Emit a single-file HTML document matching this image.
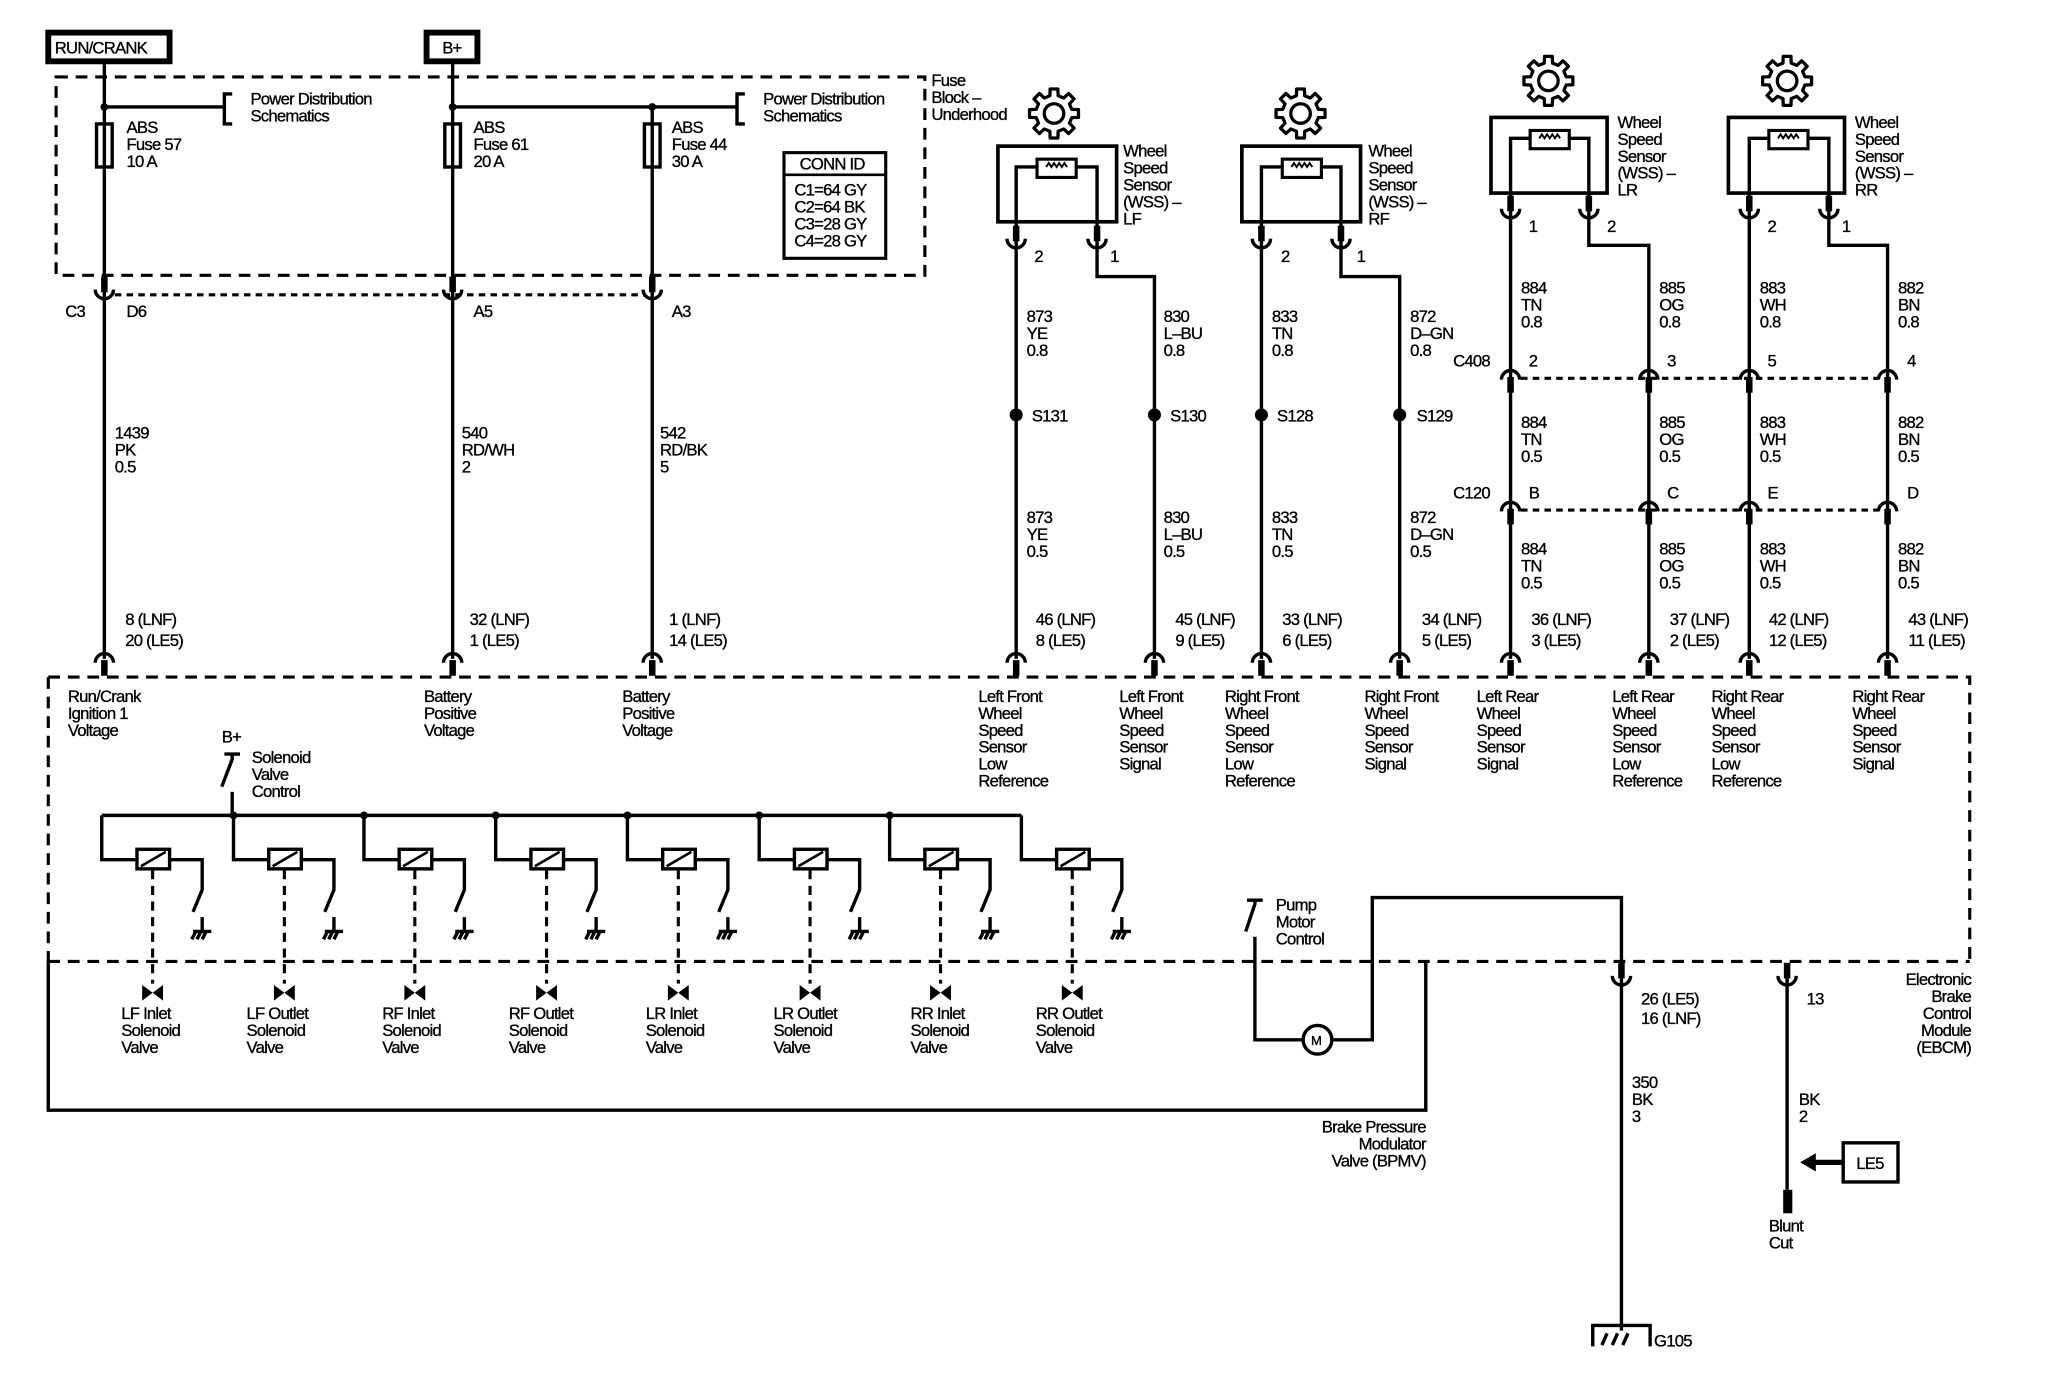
<!DOCTYPE html>
<html><head><meta charset="utf-8"><style>
html,body{margin:0;padding:0;background:#fff}
svg{display:block}
text{font-family:"Liberation Sans",sans-serif;font-size:12.8px;letter-spacing:-0.6px;fill:#000;stroke:#000;stroke-width:0.25}
.w{stroke:#000;stroke-width:2.6;fill:none}
.d{stroke:#000;stroke-width:2.4;fill:none;stroke-dasharray:9 6}
.dt{stroke:#000;stroke-width:2.4;fill:none;stroke-dasharray:5 4}
</style></head><body>
<svg width="2048" height="1392" viewBox="0 0 1570 1067" preserveAspectRatio="none" xmlns="http://www.w3.org/2000/svg">
<defs>
<g id="cupA"><line x1="0" y1="-12" x2="0" y2="0" stroke="#000" stroke-width="5"/><path d="M-7,-2 A7,7 0 0 0 7,-2" class="w"/></g>
<g id="cupB"><path d="M-7,5 A7,7 0 0 1 7,5" class="w"/><line x1="0" y1="3" x2="0" y2="15" stroke="#000" stroke-width="5"/></g>
<g id="gear"><polygon points="13.64,-3.15 18.77,-2.97 18.77,2.97 13.64,3.15 11.87,7.42 15.37,11.17 11.17,15.37 7.42,11.87 3.15,13.64 2.97,18.77 -2.97,18.77 -3.15,13.64 -7.42,11.87 -11.17,15.37 -15.37,11.17 -11.87,7.42 -13.64,3.15 -18.77,2.97 -18.77,-2.97 -13.64,-3.15 -11.87,-7.42 -15.37,-11.17 -11.17,-15.37 -7.42,-11.87 -3.15,-13.64 -2.97,-18.77 2.97,-18.77 3.15,-13.64 7.42,-11.87 11.17,-15.37 15.37,-11.17 11.87,-7.42" fill="#fff" stroke="#000" stroke-width="2.5" stroke-linejoin="round"/><circle r="7.5" fill="none" stroke="#000" stroke-width="2.5"/></g>
<g id="sol">
<path d="M0,625 V659 H27 M52,659 H77 V682 L70,699 M77,703 V714 M70,714 H84 M72,714 L69,720 M76,714 L73,720 M80,714 L77,720" class="w"/>
<rect x="27" y="651" width="25" height="15" fill="#fff" stroke="#000" stroke-width="2.6"/>
<line x1="30" y1="664" x2="49" y2="653" stroke="#000" stroke-width="2"/>
<line x1="39" y1="667" x2="39" y2="754" stroke="#000" stroke-width="2.4" stroke-dasharray="7 5"/>
<path d="M31,755 L39,761 L31,767 Z M47,755 L39,761 L47,767 Z" fill="#000"/>
</g>
</defs>

<rect x="37" y="25" width="93" height="22" fill="#fff" stroke="#000" stroke-width="4.5"/>
<text x="42" y="41">RUN/CRANK</text>
<rect x="327" y="25" width="39" height="22" fill="#fff" stroke="#000" stroke-width="4.5"/>
<text x="339" y="41">B+</text>

<rect x="43" y="59" width="666" height="152" class="d"/>
<path d="M80,47 V505 M347,47 V505 M500,82 V505 M80,82 H172 M347,82 H565" class="w"/>
<path d="M178,72 H172 V95 H178 M571,72 H565 V95 H571" class="w"/>
<circle cx="80" cy="82" r="3"/><circle cx="347" cy="82" r="3"/><circle cx="500" cy="82" r="3"/>
<text x="192" y="80">Power Distribution</text><text x="192" y="93">Schematics</text>
<text x="585" y="80">Power Distribution</text><text x="585" y="93">Schematics</text>
<g fill="#fff" stroke="#000" stroke-width="2.6">
<rect x="74" y="95" width="12" height="33"/><rect x="341" y="95" width="12" height="33"/><rect x="494" y="95" width="12" height="33"/></g>
<path d="M80,95 V128 M347,95 V128 M500,95 V128" class="w"/>
<text x="97" y="102">ABS</text><text x="97" y="115">Fuse 57</text><text x="97" y="128">10 A</text>
<text x="363" y="102">ABS</text><text x="363" y="115">Fuse 61</text><text x="363" y="128">20 A</text>
<text x="515" y="102">ABS</text><text x="515" y="115">Fuse 44</text><text x="515" y="128">30 A</text>
<text x="714" y="66">Fuse</text><text x="714" y="79">Block –</text><text x="714" y="92">Underhood</text>
<rect x="601" y="117" width="78" height="81" fill="#fff" stroke="#000" stroke-width="2.4"/>
<line x1="601" y1="134" x2="679" y2="134" stroke="#000" stroke-width="2"/>
<text x="613" y="130">CONN ID</text>
<text x="609" y="150">C1=64 GY</text><text x="609" y="163">C2=64 BK</text><text x="609" y="176">C3=28 GY</text><text x="609" y="189">C4=28 GY</text>

<line x1="88" y1="226" x2="494" y2="226" class="dt"/>
<use href="#cupA" x="80" y="224"/><use href="#cupA" x="347" y="224"/><use href="#cupA" x="500" y="224"/>
<text x="50" y="243">C3</text><text x="97" y="243">D6</text><text x="363" y="243">A5</text><text x="515" y="243">A3</text>
<text x="88" y="336">1439</text><text x="88" y="349">PK</text><text x="88" y="362">0.5</text>
<text x="354" y="336">540</text><text x="354" y="349">RD/WH</text><text x="354" y="362">2</text>
<text x="506" y="336">542</text><text x="506" y="349">RD/BK</text><text x="506" y="362">5</text>
<text x="96" y="479">8 (LNF)</text><text x="96" y="495">20 (LE5)</text>
<text x="360" y="479">32 (LNF)</text><text x="360" y="495">1 (LE5)</text>
<text x="513" y="479">1 (LNF)</text><text x="513" y="495">14 (LE5)</text>

<use href="#gear" x="808" y="87"/><use href="#gear" x="997" y="87"/>
<use href="#gear" x="1187" y="62"/><use href="#gear" x="1370" y="62"/>
<rect x="765" y="112" width="91" height="58" fill="none" stroke="#000" stroke-width="2.8"/>
<rect x="952" y="112" width="91" height="58" fill="none" stroke="#000" stroke-width="2.8"/>
<rect x="1143" y="90" width="89" height="58" fill="none" stroke="#000" stroke-width="2.8"/>
<rect x="1325" y="90" width="89" height="58" fill="none" stroke="#000" stroke-width="2.8"/>
<path d="M779,185 V128 H795 M825,128 H841 V185 M967,185 V128 H983 M1013,128 H1028 V185 M1158,162 V106 H1173 M1203,106 H1218 V162 M1341,162 V106 H1356 M1386,106 H1402 V162" class="w"/>
<g fill="#fff" stroke="#000" stroke-width="2.4">
<rect x="795" y="122" width="30" height="14"/><rect x="983" y="122" width="30" height="14"/>
<rect x="1173" y="100" width="30" height="14"/><rect x="1356" y="100" width="30" height="14"/></g>
<path d="M802,128 l2,-3 2,3 2,-3 2,3 2,-3 2,3 2,-3 2,3 M990,128 l2,-3 2,3 2,-3 2,3 2,-3 2,3 2,-3 2,3 M1180,106 l2,-3 2,3 2,-3 2,3 2,-3 2,3 2,-3 2,3 M1363,106 l2,-3 2,3 2,-3 2,3 2,-3 2,3 2,-3 2,3" stroke="#000" stroke-width="1.5" fill="none"/>
<text x="861" y="120">Wheel</text><text x="861" y="133">Speed</text><text x="861" y="146">Sensor</text><text x="861" y="159">(WSS) –</text><text x="861" y="172">LF</text>
<text x="1049" y="120">Wheel</text><text x="1049" y="133">Speed</text><text x="1049" y="146">Sensor</text><text x="1049" y="159">(WSS) –</text><text x="1049" y="172">RF</text>
<text x="1240" y="98">Wheel</text><text x="1240" y="111">Speed</text><text x="1240" y="124">Sensor</text><text x="1240" y="137">(WSS) –</text><text x="1240" y="150">LR</text>
<text x="1422" y="98">Wheel</text><text x="1422" y="111">Speed</text><text x="1422" y="124">Sensor</text><text x="1422" y="137">(WSS) –</text><text x="1422" y="150">RR</text>

<path d="M779,185 V505 M841,185 V212 H885 V505 M967,185 V505 M1028,185 V212 H1073 V505 M1158,162 V505 M1218,162 V188 H1264 V505 M1341,162 V505 M1402,162 V188 H1447 V505" class="w"/>
<use href="#cupA" x="779" y="185"/><use href="#cupA" x="841" y="185"/><use href="#cupA" x="967" y="185"/><use href="#cupA" x="1028" y="185"/>
<use href="#cupA" x="1158" y="162"/><use href="#cupA" x="1218" y="162"/><use href="#cupA" x="1341" y="162"/><use href="#cupA" x="1402" y="162"/>
<text x="793" y="201">2</text><text x="851" y="201">1</text><text x="982" y="201">2</text><text x="1040" y="201">1</text>
<text x="1172" y="178">1</text><text x="1232" y="178">2</text><text x="1355" y="178">2</text><text x="1412" y="178">1</text>

<g>
<text x="787" y="247">873</text><text x="787" y="260">YE</text><text x="787" y="273">0.8</text>
<text x="892" y="247">830</text><text x="892" y="260">L–BU</text><text x="892" y="273">0.8</text>
<text x="975" y="247">833</text><text x="975" y="260">TN</text><text x="975" y="273">0.8</text>
<text x="1081" y="247">872</text><text x="1081" y="260">D–GN</text><text x="1081" y="273">0.8</text>
<text x="787" y="401">873</text><text x="787" y="414">YE</text><text x="787" y="427">0.5</text>
<text x="892" y="401">830</text><text x="892" y="414">L–BU</text><text x="892" y="427">0.5</text>
<text x="975" y="401">833</text><text x="975" y="414">TN</text><text x="975" y="427">0.5</text>
<text x="1081" y="401">872</text><text x="1081" y="414">D–GN</text><text x="1081" y="427">0.5</text>
</g>
<circle cx="779" cy="318" r="5"/><circle cx="885" cy="318" r="5"/><circle cx="967" cy="318" r="5"/><circle cx="1073" cy="318" r="5"/>
<text x="791" y="323">S131</text><text x="897" y="323">S130</text><text x="979" y="323">S128</text><text x="1086" y="323">S129</text>

<g>
<text x="1166" y="225">884</text><text x="1166" y="238">TN</text><text x="1166" y="251">0.8</text>
<text x="1272" y="225">885</text><text x="1272" y="238">OG</text><text x="1272" y="251">0.8</text>
<text x="1349" y="225">883</text><text x="1349" y="238">WH</text><text x="1349" y="251">0.8</text>
<text x="1455" y="225">882</text><text x="1455" y="238">BN</text><text x="1455" y="251">0.8</text>
<text x="1166" y="328">884</text><text x="1166" y="341">TN</text><text x="1166" y="354">0.5</text>
<text x="1272" y="328">885</text><text x="1272" y="341">OG</text><text x="1272" y="354">0.5</text>
<text x="1349" y="328">883</text><text x="1349" y="341">WH</text><text x="1349" y="354">0.5</text>
<text x="1455" y="328">882</text><text x="1455" y="341">BN</text><text x="1455" y="354">0.5</text>
<text x="1166" y="425">884</text><text x="1166" y="438">TN</text><text x="1166" y="451">0.5</text>
<text x="1272" y="425">885</text><text x="1272" y="438">OG</text><text x="1272" y="451">0.5</text>
<text x="1349" y="425">883</text><text x="1349" y="438">WH</text><text x="1349" y="451">0.5</text>
<text x="1455" y="425">882</text><text x="1455" y="438">BN</text><text x="1455" y="451">0.5</text>
</g>
<line x1="1166" y1="290" x2="1440" y2="290" class="dt"/>
<line x1="1166" y1="391" x2="1440" y2="391" class="dt"/>
<use href="#cupB" x="1158" y="286"/><use href="#cupB" x="1264" y="286"/><use href="#cupB" x="1341" y="286"/><use href="#cupB" x="1447" y="286"/>
<use href="#cupB" x="1158" y="387"/><use href="#cupB" x="1264" y="387"/><use href="#cupB" x="1341" y="387"/><use href="#cupB" x="1447" y="387"/>
<text x="1114" y="281">C408</text><text x="1172" y="281">2</text><text x="1278" y="281">3</text><text x="1355" y="281">5</text><text x="1462" y="281">4</text>
<text x="1114" y="382">C120</text><text x="1172" y="382">B</text><text x="1278" y="382">C</text><text x="1355" y="382">E</text><text x="1462" y="382">D</text>

<g>
<text x="794" y="479">46 (LNF)</text><text x="794" y="495">8 (LE5)</text>
<text x="901" y="479">45 (LNF)</text><text x="901" y="495">9 (LE5)</text>
<text x="983" y="479">33 (LNF)</text><text x="983" y="495">6 (LE5)</text>
<text x="1090" y="479">34 (LNF)</text><text x="1090" y="495">5 (LE5)</text>
<text x="1174" y="479">36 (LNF)</text><text x="1174" y="495">3 (LE5)</text>
<text x="1280" y="479">37 (LNF)</text><text x="1280" y="495">2 (LE5)</text>
<text x="1356" y="479">42 (LNF)</text><text x="1356" y="495">12 (LE5)</text>
<text x="1463" y="479">43 (LNF)</text><text x="1463" y="495">11 (LE5)</text>
</g>
<g>
<use href="#cupB" x="80" y="503"/><use href="#cupB" x="347" y="503"/><use href="#cupB" x="500" y="503"/>
<use href="#cupB" x="779" y="503"/><use href="#cupB" x="885" y="503"/><use href="#cupB" x="967" y="503"/><use href="#cupB" x="1073" y="503"/>
<use href="#cupB" x="1158" y="503"/><use href="#cupB" x="1264" y="503"/><use href="#cupB" x="1341" y="503"/><use href="#cupB" x="1447" y="503"/>
</g>

<path d="M37,519 H1510 V737 M37,737 H1510 M37,519 V737" class="d"/>
<path d="M37,737 V851 H1093 V737" class="w" stroke-width="3"/>
<text x="52" y="538">Run/Crank</text><text x="52" y="551">Ignition 1</text><text x="52" y="564">Voltage</text>
<text x="325" y="538">Battery</text><text x="325" y="551">Positive</text><text x="325" y="564">Voltage</text>
<text x="477" y="538">Battery</text><text x="477" y="551">Positive</text><text x="477" y="564">Voltage</text>
<text x="750" y="538">Left Front</text><text x="750" y="551">Wheel</text><text x="750" y="564">Speed</text><text x="750" y="577">Sensor</text><text x="750" y="590">Low</text><text x="750" y="603">Reference</text>
<text x="858" y="538">Left Front</text><text x="858" y="551">Wheel</text><text x="858" y="564">Speed</text><text x="858" y="577">Sensor</text><text x="858" y="590">Signal</text>
<text x="939" y="538">Right Front</text><text x="939" y="551">Wheel</text><text x="939" y="564">Speed</text><text x="939" y="577">Sensor</text><text x="939" y="590">Low</text><text x="939" y="603">Reference</text>
<text x="1046" y="538">Right Front</text><text x="1046" y="551">Wheel</text><text x="1046" y="564">Speed</text><text x="1046" y="577">Sensor</text><text x="1046" y="590">Signal</text>
<text x="1132" y="538">Left Rear</text><text x="1132" y="551">Wheel</text><text x="1132" y="564">Speed</text><text x="1132" y="577">Sensor</text><text x="1132" y="590">Signal</text>
<text x="1236" y="538">Left Rear</text><text x="1236" y="551">Wheel</text><text x="1236" y="564">Speed</text><text x="1236" y="577">Sensor</text><text x="1236" y="590">Low</text><text x="1236" y="603">Reference</text>
<text x="1312" y="538">Right Rear</text><text x="1312" y="551">Wheel</text><text x="1312" y="564">Speed</text><text x="1312" y="577">Sensor</text><text x="1312" y="590">Low</text><text x="1312" y="603">Reference</text>
<text x="1420" y="538">Right Rear</text><text x="1420" y="551">Wheel</text><text x="1420" y="564">Speed</text><text x="1420" y="577">Sensor</text><text x="1420" y="590">Signal</text>

<text x="170" y="569">B+</text>
<path d="M172,578 H184 M178,578 V582 L170,603 M178,607 V625" class="w"/>
<text x="193" y="585">Solenoid</text><text x="193" y="598">Valve</text><text x="193" y="611">Control</text>
<line x1="78" y1="625" x2="783" y2="625" class="w"/>
<use href="#sol" x="78"/><use href="#sol" x="179"/><use href="#sol" x="279"/><use href="#sol" x="380"/>
<use href="#sol" x="481"/><use href="#sol" x="582"/><use href="#sol" x="682"/><use href="#sol" x="783"/>
<circle cx="179" cy="625" r="3"/><circle cx="279" cy="625" r="3"/><circle cx="380" cy="625" r="3"/><circle cx="481" cy="625" r="3"/><circle cx="582" cy="625" r="3"/><circle cx="682" cy="625" r="3"/>
<g>
<text x="93" y="781">LF Inlet</text><text x="93" y="794">Solenoid</text><text x="93" y="807">Valve</text>
<text x="189" y="781">LF Outlet</text><text x="189" y="794">Solenoid</text><text x="189" y="807">Valve</text>
<text x="293" y="781">RF Inlet</text><text x="293" y="794">Solenoid</text><text x="293" y="807">Valve</text>
<text x="390" y="781">RF Outlet</text><text x="390" y="794">Solenoid</text><text x="390" y="807">Valve</text>
<text x="495" y="781">LR Inlet</text><text x="495" y="794">Solenoid</text><text x="495" y="807">Valve</text>
<text x="593" y="781">LR Outlet</text><text x="593" y="794">Solenoid</text><text x="593" y="807">Valve</text>
<text x="698" y="781">RR Inlet</text><text x="698" y="794">Solenoid</text><text x="698" y="807">Valve</text>
<text x="794" y="781">RR Outlet</text><text x="794" y="794">Solenoid</text><text x="794" y="807">Valve</text>
</g>

<path d="M956,690 H968 M962,690 V693 L955,714 M962,718 V797 H999 M1021,797 H1052 V688 H1243 V745" class="w"/>
<circle cx="1010" cy="797" r="11" fill="#fff" stroke="#000" stroke-width="2.6"/>
<text x="1005" y="801" style="font-size:10px">M</text>
<text x="978" y="698">Pump</text><text x="978" y="711">Motor</text><text x="978" y="724">Control</text>
<text x="1093" y="868" text-anchor="end">Brake Pressure</text><text x="1093" y="881" text-anchor="end">Modulator</text><text x="1093" y="894" text-anchor="end">Valve (BPMV)</text>

<use href="#cupA" x="1243" y="750"/>
<path d="M1243,750 V1020 M1221,1032 V1016 H1265 V1032 M1228,1031 L1232,1022 M1236,1031 L1240,1022 M1244,1031 L1248,1022" class="w"/>
<text x="1258" y="770">26 (LE5)</text><text x="1258" y="785">16 (LNF)</text>
<text x="1251" y="834">350</text><text x="1251" y="847">BK</text><text x="1251" y="860">3</text>
<text x="1268" y="1032">G105</text>

<use href="#cupA" x="1370" y="750"/>
<path d="M1370,750 V912" class="w"/>
<rect x="1367" y="912" width="7" height="18" fill="#000"/>
<text x="1385" y="770">13</text>
<text x="1379" y="847">BK</text><text x="1379" y="860">2</text>
<path d="M1391,891 H1413" stroke="#000" stroke-width="4"/>
<path d="M1380,891 L1392,884 L1392,898 Z" fill="#000"/>
<rect x="1413" y="876" width="42" height="30" fill="#fff" stroke="#000" stroke-width="2.6"/>
<text x="1423" y="896">LE5</text>
<text x="1356" y="944">Blunt</text><text x="1356" y="957">Cut</text>
<text x="1511" y="755" text-anchor="end">Electronic</text><text x="1511" y="768" text-anchor="end">Brake</text><text x="1511" y="781" text-anchor="end">Control</text><text x="1511" y="794" text-anchor="end">Module</text><text x="1511" y="807" text-anchor="end">(EBCM)</text>
</svg>
</body></html>
